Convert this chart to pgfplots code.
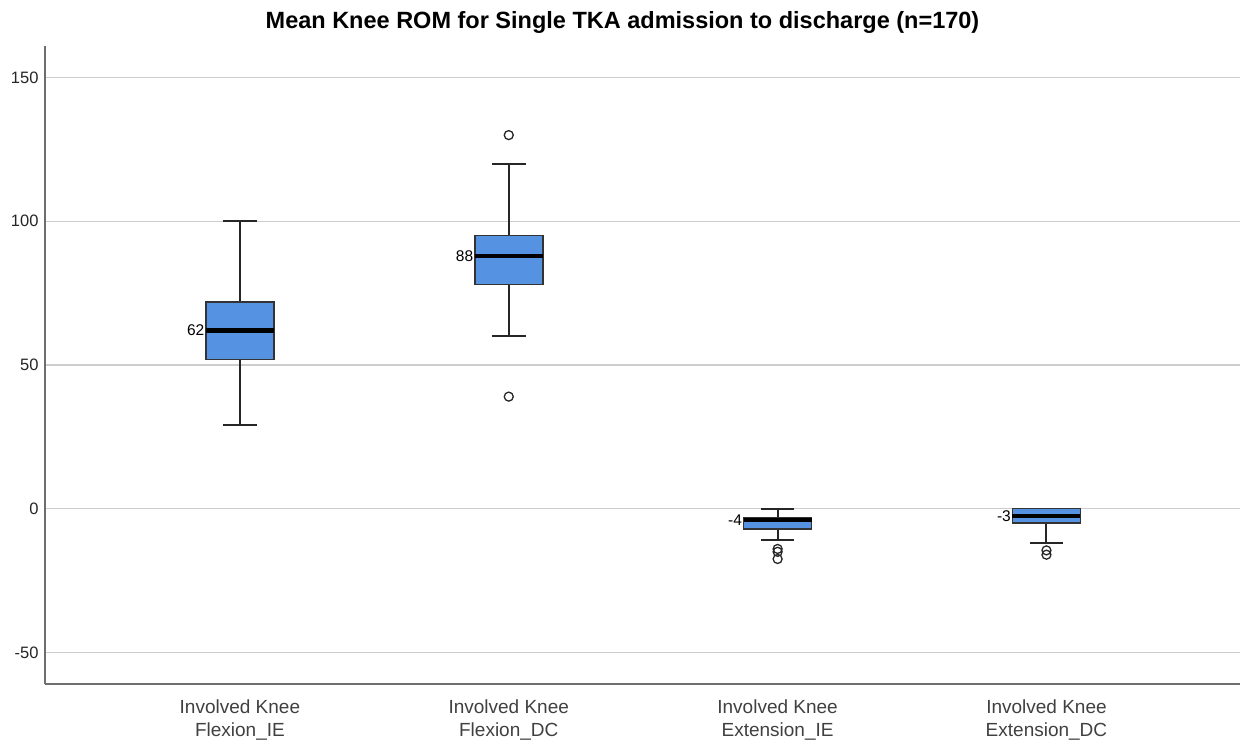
\documentclass[border=0pt]{standalone}
\usepackage{fontspec}
\setmainfont{Liberation Sans}
\usepackage{pgfplots}
\pgfplotsset{compat=1.18}
\definecolor{boxblue}{RGB}{85,146,226}
\definecolor{gridgray}{RGB}{205,205,205}
\definecolor{axisgray}{RGB}{110,110,110}
\pgfplotsset{
  boxfill/.style={fill=boxblue, draw=black!80, line width=1.5pt},
  whisk/.style={black!85, line width=2pt, unbounded coords=jump},
  med/.style={black, line width=4.5pt},
  outl/.style={only marks, mark=o, mark size=4.5pt, mark options={black!85, line width=1.3pt, fill=none}},
}
\begin{document}
\begin{tikzpicture}
\useasboundingbox (0pt,0pt) rectangle (1246pt,-745pt);
\begin{axis}[
  at={(45pt,-684pt)}, anchor=south west,
  scale only axis, width=1195pt, height=638pt,
  xmin=0.275, xmax=4.72, ymin=-61, ymax=161,
  axis lines*=left,
  axis line style={axisgray, line width=1.4pt},
  ytick={-50,0,50,100,150},
  xtick={1,2,3,4},
  xticklabels={{Involved Knee\\Flexion\_IE},{Involved Knee\\Flexion\_DC},{Involved Knee\\Extension\_IE},{Involved Knee\\Extension\_DC}},
  xticklabel style={align=center, font=\fontsize{19}{23}\selectfont, text=black!75, yshift=-12pt},
  yticklabel style={font=\fontsize{16.5}{20}\selectfont, text=black!85, xshift=-3pt},
  /pgf/number format/assume math mode=true,
  tick style={draw=none},
  ymajorgrids, grid style={gridgray, line width=1.5pt},
  title={Mean Knee ROM for Single TKA admission to discharge (n=170)},
  title style={yshift=3pt, xshift=-20pt, font=\bfseries\fontsize{23.5}{27}\selectfont},
]
% Flexion_IE: whiskers 29..100, box 52..72, median 62
\addplot[whisk] coordinates {(1,72) (1,100) (nan,nan) (0.9375,100) (1.0625,100) (nan,nan) (1,52) (1,29) (nan,nan) (0.9375,29) (1.0625,29)};
\addplot[boxfill] coordinates {(0.8735,52) (1.1265,52) (1.1265,72) (0.8735,72)} -- cycle;
\addplot[med] coordinates {(0.8735,62) (1.1265,62)};
% Flexion_DC: whiskers 60..120, box 78..95, median 88, outliers 130, 39
\addplot[whisk] coordinates {(2,95) (2,120) (nan,nan) (1.9375,120) (2.0625,120) (nan,nan) (2,78) (2,60) (nan,nan) (1.9375,60) (2.0625,60)};
\addplot[boxfill] coordinates {(1.8735,78) (2.1265,78) (2.1265,95) (1.8735,95)} -- cycle;
\addplot[med] coordinates {(1.8735,88) (2.1265,88)};
\addplot[outl] coordinates {(2,130) (2,39)};
% Extension_IE: whiskers -11..0, box -7..-3, median -4, outliers
\addplot[whisk] coordinates {(3,-3) (3,0) (nan,nan) (2.9375,0) (3.0625,0) (nan,nan) (3,-7) (3,-11) (nan,nan) (2.9375,-11) (3.0625,-11)};
\addplot[boxfill] coordinates {(2.8735,-7) (3.1265,-7) (3.1265,-3) (2.8735,-3)} -- cycle;
\addplot[med] coordinates {(2.8735,-4) (3.1265,-4)};
\addplot[outl] coordinates {(3,-14) (3,-15) (3,-17.5)};
% Extension_DC: whiskers -12..0, box -5..0, median -2.5, outliers
\addplot[whisk] coordinates {(4,-5) (4,-12) (nan,nan) (3.9375,-12) (4.0625,-12)};
\addplot[boxfill] coordinates {(3.8735,-5) (4.1265,-5) (4.1265,0) (3.8735,0)} -- cycle;
\addplot[med] coordinates {(3.8735,-2.5) (4.1265,-2.5)};
\addplot[outl] coordinates {(4,-14.5) (4,-16)};
\node[anchor=east, font=\fontsize{15.5}{18}\selectfont, inner sep=1pt] at (axis cs:0.872,62) {62};
\node[anchor=east, font=\fontsize{15.5}{18}\selectfont, inner sep=1pt] at (axis cs:1.872,88) {88};
\node[anchor=east, font=\fontsize{15.5}{18}\selectfont, inner sep=1pt] at (axis cs:2.872,-4) {-4};
\node[anchor=east, font=\fontsize{15.5}{18}\selectfont, inner sep=1pt] at (axis cs:3.872,-2.5) {-3};
\end{axis}
\end{tikzpicture}
\end{document}
